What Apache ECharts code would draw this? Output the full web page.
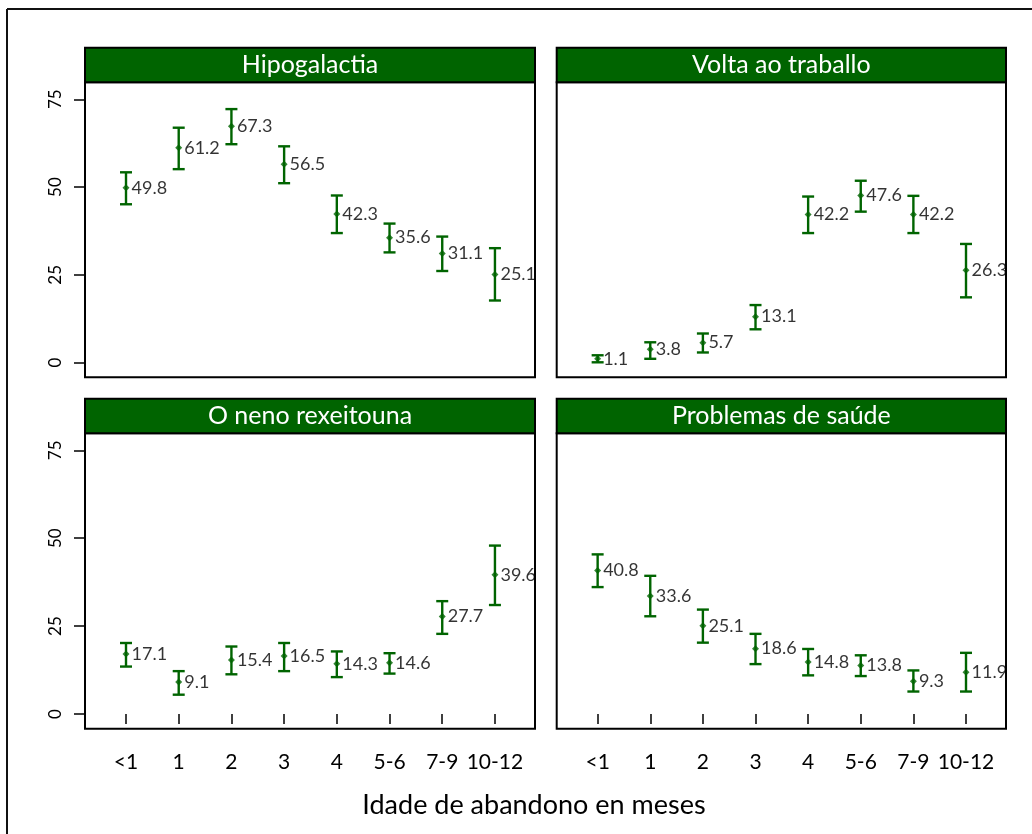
<!DOCTYPE html>
<html>
<head>
<meta charset="utf-8">
<script src="https://cdn.jsdelivr.net/npm/echarts@6/dist/echarts.min.js"></script>
<style>
html,body{margin:0;padding:0;background:#fff;}
#chart{width:1032px;height:834px;}
</style>
</head>
<body>
<div id="chart"></div>
<script>
var categories = ['<1','1','2','3','4','5-6','7-9','10-12'];
var panelTitles = ['Hipogalactia','Volta ao traballo','O neno rexeitouna','Problemas de saúde'];
var yTicks = [0,25,50,75];
var xTitle = 'Idade de abandono en meses';

var hipoValues = [49.8,61.2,67.3,56.5,42.3,35.6,31.1,25.1];
var hipoLower  = [45.1,55.1,62.2,51.1,36.9,31.4,26.1,17.7];
var hipoUpper  = [54.2,66.9,72.2,61.6,47.6,39.6,35.9,32.6];

var voltaValues = [1.1,3.8,5.7,13.1,42.2,47.6,42.2,26.3];
var voltaLower  = [0.1,1.1,2.9,9.5,36.9,43.0,36.9,18.6];
var voltaUpper  = [2.1,5.8,8.3,16.4,47.3,51.8,47.5,33.8];

var nenoValues = [17.1,9.1,15.4,16.5,14.3,14.6,27.7,39.6];
var nenoLower  = [13.5,5.5,11.3,12.2,10.5,11.5,22.8,31.0];
var nenoUpper  = [20.2,12.2,19.2,20.2,17.8,17.3,32.1,47.9];

var saudeValues = [40.8,33.6,25.1,18.6,14.8,13.8,9.3,11.9];
var saudeLower  = [36.1,27.8,20.3,14.2,11.0,10.8,6.4,6.4];
var saudeUpper  = [45.4,39.3,29.7,22.8,18.5,16.7,12.4,17.4];

var panels = [
  {v: hipoValues, lo: hipoLower, hi: hipoUpper},
  {v: voltaValues, lo: voltaLower, hi: voltaUpper},
  {v: nenoValues, lo: nenoLower, hi: nenoUpper},
  {v: saudeValues, lo: saudeLower, hi: saudeUpper}
];

var GREEN = '#006400';
var FONT = 'Lato';
var gridPos = [
  {left: 85, top: 82.3, width: 450, height: 295},
  {left: 556.7, top: 82.3, width: 449.3, height: 295},
  {left: 85, top: 433.3, width: 450, height: 295.4},
  {left: 556.7, top: 433.3, width: 449.3, height: 295.4}
];
var headerH = 34.6;
var xPositions = categories.map(function(c, i){ return i + 1; });

var grids = [], xAxes = [], yAxes = [], series = [], graphics = [];

gridPos.forEach(function(g, p){
  grids.push({left: g.left, top: g.top, width: g.width, height: g.height,
    show: true, borderColor: '#000', borderWidth: 2, backgroundColor: '#fff', containLabel: false});
  var bottom = p >= 2, left = (p % 2 === 0);
  xAxes.push({
    type: 'value', gridIndex: p, min: 0.222, max: 8.76,
    splitLine: {show: false},
    axisLine: {show: false},
    axisTick: {show: bottom, customValues: xPositions, length: 10, inside: false,
      lineStyle: {color: '#000', width: 1.5}},
    axisLabel: {show: bottom, customValues: xPositions, margin: 23,
      fontFamily: FONT, fontSize: 21, color: '#000',
      formatter: function(val){ return categories[Math.round(val) - 1] || ''; }}
  });
  yAxes.push({
    type: 'value', gridIndex: p, min: -4.17, max: 79.83,
    splitLine: {show: false},
    axisLine: {show: false},
    axisTick: {show: left, customValues: yTicks, length: 11, lineStyle: {color: '#000', width: 1.5}},
    axisLabel: {show: left, customValues: yTicks, rotate: 90, margin: 21,
      fontFamily: FONT, fontSize: 17, color: '#000'}
  });
  var d = panels[p];
  series.push({
    type: 'custom', xAxisIndex: p, yAxisIndex: p, silent: true,
    data: d.v.map(function(v, i){ return [xPositions[i], d.lo[i], d.hi[i]]; }),
    renderItem: function(params, api){
      var lo = api.coord([api.value(0), api.value(1)]);
      var hi = api.coord([api.value(0), api.value(2)]);
      var hw = 6;
      var st = {stroke: GREEN, lineWidth: 2.4};
      return {type: 'group', children: [
        {type: 'line', shape: {x1: lo[0], y1: lo[1], x2: hi[0], y2: hi[1]}, style: st},
        {type: 'line', shape: {x1: lo[0]-hw, y1: lo[1], x2: lo[0]+hw, y2: lo[1]}, style: st},
        {type: 'line', shape: {x1: hi[0]-hw, y1: hi[1], x2: hi[0]+hw, y2: hi[1]}, style: st}
      ]};
    },
    z: 2
  });
  series.push({
    type: 'scatter', xAxisIndex: p, yAxisIndex: p, silent: true,
    symbol: 'diamond', symbolSize: 7,
    itemStyle: {color: GREEN},
    data: d.v.map(function(v, i){ return [xPositions[i], v]; }),
    label: {show: true, position: 'right', distance: 2, fontFamily: FONT, fontSize: 18, color: '#000',
      formatter: function(pr){ return pr.value[1].toFixed(1); }},
    z: 3
  });
  graphics.push({
    type: 'rect', shape: {x: g.left, y: g.top - headerH, width: g.width, height: headerH},
    style: {fill: GREEN, stroke: '#000', lineWidth: 2}, z: 10
  });
  graphics.push({
    type: 'text', x: g.left + g.width / 2, y: g.top - headerH / 2,
    style: {text: panelTitles[p], fill: '#fff', font: '25px ' + FONT, align: 'center', verticalAlign: 'middle'},
    z: 11
  });
});

graphics.push({type: 'line', shape: {x1: 7, y1: 9, x2: 1032, y2: 9}, style: {stroke: '#111', lineWidth: 2}, z: 1});
graphics.push({type: 'line', shape: {x1: 7, y1: 9, x2: 7, y2: 834}, style: {stroke: '#111', lineWidth: 2}, z: 1});
graphics.push({type: 'text', x: 534, y: 805,
  style: {text: xTitle, fill: '#000', font: '27px ' + FONT, align: 'center', verticalAlign: 'middle'}, z: 11});

var chart = echarts.init(document.getElementById('chart'), null, {renderer: 'canvas'});
chart.setOption({
  animation: false,
  backgroundColor: '#fff',
  grid: grids, xAxis: xAxes, yAxis: yAxes, series: series, graphic: graphics
});
</script>
</body>
</html>
